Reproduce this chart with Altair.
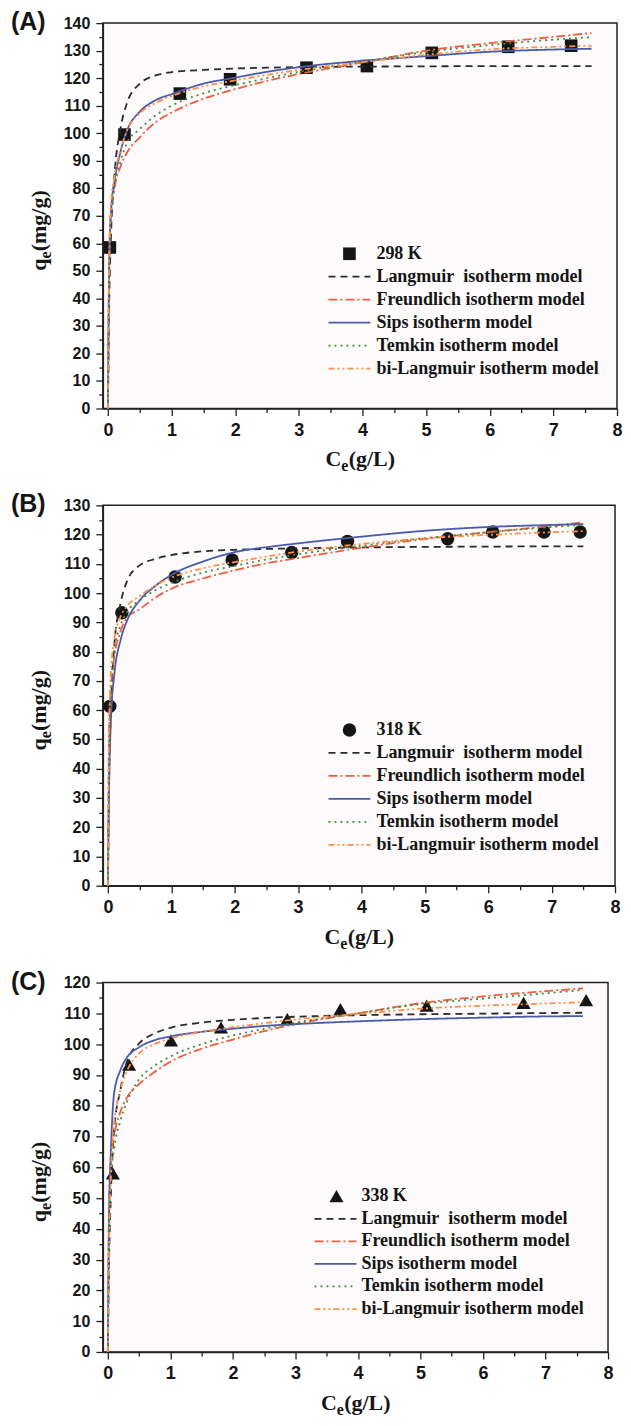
import altair as alt
import pandas as pd

# ---------------- data ----------------
models = ["Langmuir", "Freundlich", "Sips", "Temkin", "bi-Langmuir"]
legend_labels = ["Langmuir\u00a0 isotherm model", "Freundlich isotherm model",
                 "Sips isotherm model", "Temkin isotherm model", "bi-Langmuir isotherm model"]
model_colors = ["#2b2b2b", "#f25c3b", "#4a5bab", "#3f8f3f", "#ff8f45"]
model_dashes = [[7, 5], [9, 3, 2, 3], [1, 0], [2, 4], [6, 3, 2, 3, 2, 3]]

x_major = [0, 1, 2, 3, 4, 5, 6, 7, 8]
x_minor = [0.5, 1.5, 2.5, 3.5, 4.5, 5.5, 6.5, 7.5]
y_major_A = [0, 10, 20, 30, 40, 50, 60, 70, 80, 90, 100, 110, 120, 130, 140]
y_major_B = [0, 10, 20, 30, 40, 50, 60, 70, 80, 90, 100, 110, 120, 130]
y_major_C = [0, 10, 20, 30, 40, 50, 60, 70, 80, 90, 100, 110, 120]
y_minor_A = [5, 15, 25, 35, 45, 55, 65, 75, 85, 95, 105, 115, 125, 135]
y_minor_B = [5, 15, 25, 35, 45, 55, 65, 75, 85, 95, 105, 115, 125]
y_minor_C = [5, 15, 25, 35, 45, 55, 65, 75, 85, 95, 105, 115]

# Panel A, 298 K
A_grid = [0, 0.02, 0.05, 0.1, 0.2, 0.3, 0.5, 0.75, 1.0, 1.5, 2.0, 2.5, 3.0, 4.0, 5.0, 6.0, 7.0, 7.6]
A_langmuir = [0, 38, 64, 84, 102, 111, 118, 121, 122.2, 123, 123.5, 123.8, 124, 124.2, 124.3, 124.4, 124.4, 124.4]
A_freundlich = [0, 55, 72, 80, 88, 93, 98.5, 104, 107.5, 112.5, 116, 119, 121.5, 125.7, 130, 132.7, 135, 136.4]
A_sips = [0, 52, 72, 82, 93.5, 101, 107.8, 112, 114.2, 118, 120.2, 122.3, 124, 126.3, 128, 129.6, 130.4, 130.7]
A_temkin = [0, 45, 68, 80, 90, 96.5, 101.5, 106.5, 110, 114.5, 117.5, 120, 122.3, 126, 129.5, 132, 134, 134.9]
A_bilangmuir = [0, 55, 74, 84, 94, 101, 107.2, 111, 113.5, 117, 119.2, 121.2, 123, 125.8, 128.5, 130.5, 131.4, 131.8]
A_pts_x = [0.03, 0.26, 1.13, 1.92, 3.12, 4.07, 5.09, 6.29, 7.28]
A_pts_y = [58.5, 99.5, 114.4, 119.6, 123.8, 124.4, 129.2, 131.4, 131.8]

# Panel B, 318 K
B_grid = [0, 0.02, 0.05, 0.1, 0.2, 0.3, 0.5, 0.75, 1.0, 1.5, 2.0, 2.5, 3.0, 4.0, 5.0, 6.0, 7.0, 7.5]
B_langmuir = [0, 38, 62, 82, 96.5, 104, 109.5, 111.7, 113, 114.3, 114.8, 115.1, 115.3, 115.6, 115.8, 115.9, 116, 116]
B_freundlich = [0, 55, 68, 78, 87, 91.5, 94.5, 98.5, 101.5, 105, 107.8, 110.2, 112, 115.5, 118.5, 120.8, 123, 124.2]
B_sips = [0, 35, 58, 72, 84, 90.5, 97.5, 102.5, 106.2, 110.8, 114, 115.7, 117, 119.3, 121.3, 122.6, 123.3, 123.6]
B_temkin = [0, 48, 68, 80, 89, 93.5, 97.5, 101, 103.5, 107, 109.3, 111.5, 113.3, 116.2, 118.8, 120.8, 122.6, 123.3]
B_bilangmuir = [0, 55, 74, 84, 92, 95.5, 99, 102.6, 105.3, 108.5, 110.6, 112.5, 114.2, 116.8, 118.7, 119.9, 120.8, 121.2]
B_pts_x = [0.03, 0.22, 1.06, 1.96, 2.9, 3.78, 5.36, 6.07, 6.88, 7.45]
B_pts_y = [61.3, 93.3, 105.5, 111.3, 113.9, 117.7, 118.6, 120.9, 120.9, 120.9]

# Panel C, 338 K
C_grid = [0, 0.02, 0.05, 0.1, 0.2, 0.3, 0.5, 0.75, 1.0, 1.5, 2.0, 2.5, 3.0, 4.0, 5.0, 6.0, 7.0, 7.6]
C_langmuir = [0, 30, 52, 72, 85, 94, 100.2, 103.5, 105.3, 107, 107.9, 108.5, 108.9, 109.4, 109.7, 109.9, 110.1, 110.2]
C_freundlich = [0, 50, 62, 70, 78, 82.5, 87, 91, 94.3, 98.5, 101.5, 104.2, 106.5, 110, 113.3, 115.5, 117.2, 118.1]
C_sips = [0, 45, 66, 84, 91.5, 95.5, 99, 101.3, 102.5, 104, 105, 105.9, 106.5, 107.4, 108.1, 108.6, 109, 109.1]
C_temkin = [0, 40, 57, 66, 75, 81, 88.5, 93, 96, 100, 102.8, 105, 107, 110, 113, 114.8, 116.5, 117.6]
C_bilangmuir = [0, 35, 58, 74, 85, 91, 97, 100, 101.8, 104, 105.5, 106.8, 108, 109.8, 111.5, 112.5, 113.2, 113.6]
C_pts_x = [0.08, 0.34, 1.01, 1.81, 2.87, 3.72, 5.1, 6.65, 7.65]
C_pts_y = [58, 93.3, 101.2, 105.4, 108.1, 111.4, 112.5, 113.4, 114.3]

SERIF = "Liberation Serif"
SANS = "Liberation Sans"
INK = "#151515"
one = pd.DataFrame({"k": [0]})


def txt(text, x, y, size, font=SERIF, angle=0, align="left", baseline="middle"):
    return alt.Chart(one).mark_text(
        text=text, font=font, fontSize=size, fontWeight="bold", align=align,
        baseline=baseline, angle=angle, color=INK
    ).encode(x=alt.value(x), y=alt.value(y))


def panel(tag, grid, curves, pts_x, pts_y, shape, msize, temp, W, H, ymax, y_major, y_minor,
          leg_y0, leg_step, leg_line_x, leg_text_x, leg_marker_x):
    rows = []
    for m, vals in zip(models, curves):
        for xv, qv in zip(grid, vals):
            rows.append({"Ce": xv, "qe": qv, "model": m})
    df = pd.DataFrame(rows)
    pdf = pd.DataFrame({"Ce": pts_x, "qe": pts_y})

    xsc = alt.Scale(domain=[-0.08, 8], nice=False, zero=False)
    ysc = alt.Scale(domain=[0, ymax], nice=False, zero=True)

    pts = alt.Chart(pdf).mark_point(shape=shape, filled=True, size=msize, color=INK, opacity=1).encode(
        x=alt.X("Ce:Q", scale=xsc,
                axis=alt.Axis(values=x_major, title=None, grid=False, orient="bottom", format="d",
                              tickSize=7, labelFontSize=18, labelPadding=6, labelFlush=False)),
        y=alt.Y("qe:Q", scale=ysc,
                axis=alt.Axis(values=y_major, title=None, grid=False, orient="left", format="d",
                              tickSize=7, labelFontSize=16, labelPadding=6, labelFlush=False)),
    )
    lines = alt.Chart(df).mark_line(strokeWidth=1.8, interpolate="monotone").encode(
        x=alt.X("Ce:Q", scale=xsc,
                axis=alt.Axis(values=x_minor, title=None, grid=False, orient="bottom",
                              labels=False, domain=False, tickSize=4)),
        y=alt.Y("qe:Q", scale=ysc,
                axis=alt.Axis(values=y_minor, title=None, grid=False, orient="left",
                              labels=False, domain=False, tickSize=4)),
        color=alt.Color("model:N", scale=alt.Scale(domain=models, range=model_colors), legend=None),
        strokeDash=alt.StrokeDash("model:N", scale=alt.Scale(domain=models, range=model_dashes), legend=None),
    )

    layers = [pts, lines]
    # panel tag
    layers.append(txt(tag, -92, 7, 25, font=SANS, baseline="alphabetic"))
    # x title  C_e(g/L)
    xs = W / 2 - 34.5
    layers.append(txt("C", xs, H + 58, 22, baseline="alphabetic"))
    layers.append(txt("e", xs + 15.9, H + 63, 16, baseline="alphabetic"))
    layers.append(txt("(g/L)", xs + 23.2, H + 58, 22, baseline="alphabetic"))
    # y title  q_e(mg/g)
    y0 = H / 2 + 55
    layers.append(txt("q", -57, y0, 22, angle=270, baseline="alphabetic"))
    layers.append(txt("e", -52, y0 - 12.2, 16, angle=270, baseline="alphabetic"))
    layers.append(txt("(mg/g)", -57, y0 - 19.5, 22, angle=270, baseline="alphabetic"))
    # legend
    layers.append(alt.Chart(one).mark_point(shape=shape, filled=True, size=msize, color=INK, opacity=1)
                  .encode(x=alt.value(leg_marker_x), y=alt.value(leg_y0)))
    layers.append(txt(temp, leg_text_x, leg_y0, 18))
    for i, (lab, col, dash) in enumerate(zip(legend_labels, model_colors, model_dashes)):
        yy = leg_y0 + leg_step * (i + 1)
        layers.append(alt.Chart(one).mark_rule(color=col, strokeDash=dash, strokeWidth=1.8)
                      .encode(x=alt.value(leg_line_x[0]), x2=alt.value(leg_line_x[1]), y=alt.value(yy)))
        layers.append(txt(lab, leg_text_x, yy, 18))
    return alt.layer(*layers).resolve_axis(x="independent", y="independent").properties(width=W, height=H)


pA = panel("(A)", A_grid, [A_langmuir, A_freundlich, A_sips, A_temkin, A_bilangmuir],
           A_pts_x, A_pts_y, "square", 160, "298 K", 515, 386, 140, y_major_A, y_minor_A,
           231, 23, (226, 268), 274, 247)
pB = panel("(B)", B_grid, [B_langmuir, B_freundlich, B_sips, B_temkin, B_bilangmuir],
           B_pts_x, B_pts_y, "circle", 180, "318 K", 513, 381, 130, y_major_B, y_minor_B,
           225, 23, (226, 268), 274, 247)
pC = panel("(C)", C_grid, [C_langmuir, C_freundlich, C_sips, C_temkin, C_bilangmuir],
           C_pts_x, C_pts_y, "triangle-up", 200, "338 K", 506, 370, 120, y_major_C, y_minor_C,
           214, 22.6, (212, 254), 259, 234)

chart = alt.vconcat(pA, pB, pC, spacing=16).resolve_scale(
    x="independent", y="independent", color="independent", strokeDash="independent"
).configure_view(stroke="#222", strokeWidth=1.5, fill="#fcfafa").configure_axis(
    domainColor="#222", domainWidth=1.5, tickColor="#222", tickWidth=1.3,
    labelFont=SANS, labelFontWeight="bold", labelColor=INK
).properties(background="white", padding={"left": 2, "top": 0, "right": 0, "bottom": 0})

chart.save("out.html", embed_options={"renderer": "svg", "actions": False})
